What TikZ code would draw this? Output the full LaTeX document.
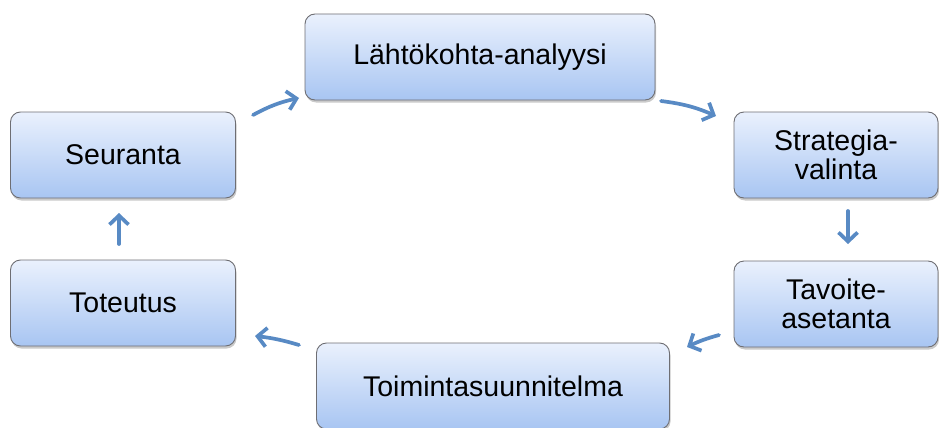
\documentclass[tikz,border=0pt]{standalone}
\usepackage{fontspec}
\setmainfont{Liberation Sans}
\usetikzlibrary{arrows.meta,shadows}
\definecolor{boxtop}{RGB}{234,241,253}
\definecolor{boxbot}{RGB}{168,197,242}
\definecolor{boxline}{RGB}{110,110,115}
\definecolor{arr}{RGB}{88,138,196}
\tikzset{
  stagebox/.style={draw=boxline, line width=0.9pt, rounded corners=10pt,
    top color=boxtop, bottom color=boxbot, align=center,
    font=\fontsize{28.5}{29}\selectfont, inner sep=0pt,
    drop shadow={shadow xshift=1pt, shadow yshift=-2.5pt, opacity=0.35, fill=black!60}},
  flow/.style={draw=arr, line width=3.7pt, line cap=round,
    -{Straight Barb[length=9pt, width=19pt, line width=3.7pt]}}
}
\begin{document}
\begin{tikzpicture}[x=1pt,y=-1pt]
\useasboundingbox (0,0) rectangle (939,428);
\node[stagebox, minimum width=350pt, minimum height=86pt] (lah) at (480,57) {Lähtökohta-analyysi};
\node[stagebox, minimum width=204pt, minimum height=86pt] (str) at (836,155) {Strategia-\\valinta};
\node[stagebox, minimum width=204pt, minimum height=86pt] (tav) at (836,304) {Tavoite-\\asetanta};
\node[stagebox, minimum width=353pt, minimum height=86pt] (toi) at (493,386) {Toimintasuunnitelma};
\node[stagebox, minimum width=225pt, minimum height=86pt] (tot) at (123,303) {Toteutus};
\node[stagebox, minimum width=225pt, minimum height=86pt] (seu) at (123,155) {Seuranta};
\coordinate (a1) at (253,115); \coordinate (b1) at (299,98);
\coordinate (a2) at (661,101); \coordinate (b2) at (716,116);
\coordinate (a3) at (848,211); \coordinate (b3) at (848,244);
\coordinate (a4) at (719,335); \coordinate (b4) at (687,347);
\coordinate (a5) at (299,345); \coordinate (b5) at (255,336);
\coordinate (a6) at (119,244); \coordinate (b6) at (119,213);
\draw[flow] (a1) to[bend left=8] (b1);
\draw[flow] (a2) to[bend left=8] (b2);
\draw[flow] (a3) -- (b3);
\draw[flow] (a4) to[bend right=5] (b4);
\draw[flow] (a5) to[bend right=5] (b5);
\draw[flow] (a6) -- (b6);
\end{tikzpicture}
\end{document}
